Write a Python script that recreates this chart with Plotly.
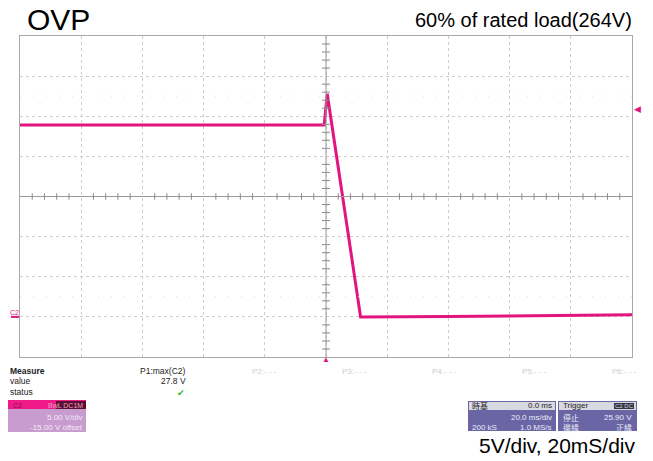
import plotly.graph_objects as go

# ---- data (time in ms, voltage in V) ----
time_ms = [-100, -0.6, 0.4, 11.3, 40, 70, 100]
volts = [23.9, 23.9, 27.8, 0.0, 0.05, 0.15, 0.25]

x_ticks = [-100, -80, -60, -40, -20, 0, 20, 40, 60, 80, 100]
y_ticks = [-5, 0, 5, 10, 15, 20, 25, 30, 35]
trigger_level = 25.9
meas_labels = ["P2:- - -", "P3:- - -", "P4:- - -", "P5:- - -", "P6:- - -"]

TRACE = "#E2147F"
FONT = "Liberation Sans, Arial, sans-serif"

# plot area in pixels
L, R, T, B = 20, 632, 36, 357
W, H = 653, 461


def px(x):
    return (x - L) / (R - L)


def py(y):
    return (B - y) / (B - T)


fig = go.Figure()
fig.add_trace(go.Scatter(x=time_ms, y=volts, mode="lines",
                         line=dict(color=TRACE, width=3), hoverinfo="skip",
                         showlegend=False))

shapes = []
# center axes
shapes.append(dict(type="line", xref="x", yref="y", x0=0, x1=0, y0=-5, y1=35,
                   line=dict(color="#9a9a9a", width=1)))
shapes.append(dict(type="line", xref="x", yref="y", x0=-100, x1=100, y0=15, y1=15,
                   line=dict(color="#9a9a9a", width=1)))
# minor tick marks on centre axes
for i in range(-25, 26):
    if i % 5:
        t = i * 4
        shapes.append(dict(type="line", xref="x", yref="y", x0=t, x1=t, y0=14.6, y1=15.4,
                           line=dict(color="#8a8a8a", width=1)))
for i in range(-20, 21):
    if i % 5:
        v = 15 + i
        shapes.append(dict(type="line", xref="x", yref="y", x0=-1.3, x1=1.3, y0=v, y1=v,
                           line=dict(color="#8a8a8a", width=1)))
# faint half-division marks
for yv in (27.5, 2.5):
    shapes.append(dict(type="line", xref="x", yref="y", x0=-100, x1=100, y0=yv, y1=yv,
                       line=dict(color="#dddddd", width=1, dash="1px,12px")))

# C2 settings box
shapes.append(dict(type="rect", xref="paper", yref="paper", x0=px(8), x1=px(86),
                   y0=py(432), y1=py(400), fillcolor="#C89CCF", line=dict(width=0)))
shapes.append(dict(type="rect", xref="paper", yref="paper", x0=px(8), x1=px(86),
                   y0=py(409), y1=py(400), fillcolor="#EE1A88", line=dict(width=0)))
shapes.append(dict(type="rect", xref="paper", yref="paper", x0=px(56), x1=px(86),
                   y0=py(409), y1=py(401), fillcolor="#5a1030", line=dict(width=0)))
# timebase box
shapes.append(dict(type="rect", xref="paper", yref="paper", x0=px(468), x1=px(556),
                   y0=py(431), y1=py(401), fillcolor="#6A66A6", line=dict(width=0)))
shapes.append(dict(type="rect", xref="paper", yref="paper", x0=px(469), x1=px(555),
                   y0=py(410), y1=py(402), fillcolor="#D9D9E2", line=dict(width=0)))
# trigger box
shapes.append(dict(type="rect", xref="paper", yref="paper", x0=px(558), x1=px(637),
                   y0=py(431), y1=py(401), fillcolor="#6A66A6", line=dict(width=0)))
shapes.append(dict(type="rect", xref="paper", yref="paper", x0=px(559), x1=px(636),
                   y0=py(410), y1=py(402), fillcolor="#D9D9E2", line=dict(width=0)))
shapes.append(dict(type="rect", xref="paper", yref="paper", x0=px(614), x1=px(634),
                   y0=py(409), y1=py(403), fillcolor="#333344", line=dict(width=0)))
# ground marker line
shapes.append(dict(type="line", xref="paper", yref="y", x0=px(11), x1=px(19), y0=0, y1=0,
                   line=dict(color=TRACE, width=2)))

ann = []


def txt(x, y, s, size=9, color="#222", anchor="left", bold=False, family=FONT):
    ann.append(dict(xref="paper", yref="paper", x=px(x), y=py(y), text=("<b>%s</b>" % s) if bold else s,
                    showarrow=False, xanchor=anchor, yanchor="middle",
                    font=dict(size=size, color=color, family=family)))


txt(25, 19, "OVP", size=30, color="#000")
txt(634, 20, "60% of rated load(264V)", size=20, color="#000", anchor="right")
txt(638, 445, "5V/div, 20mS/div", size=21, color="#000", anchor="right")

txt(8, 371, "Measure", size=8.5, bold=True)
txt(8, 381, "value", size=8.5)
txt(8, 392, "status", size=8.5)
txt(188, 371, "P1:max(C2)", size=8.5, anchor="right")
txt(188, 381, "27.8 V", size=8.5, anchor="right")
txt(181, 393, "✔", size=9, color="#3BB53B", anchor="center")
for i, lab in enumerate(meas_labels):
    txt(250 + i * 90, 371, lab, size=8, color="#cccccc")

txt(11, 405, "C2", size=7, color="#8a0f4a")
txt(85, 405, "BwL DC1M", size=7, color="#E7A0C4", anchor="right")
txt(85, 417, "5.00 V/div", size=8, color="#f4eaf6", anchor="right")
txt(85, 427, "-15.00 V offset", size=8, color="#f4eaf6", anchor="right")

txt(470, 406, "時基", size=8, color="#222", family="Noto Sans CJK TC")
txt(554, 406, "0.0 ms", size=8, color="#222", anchor="right")
txt(554, 417, "20.0 ms/div", size=8, color="#ecebf6", anchor="right")
txt(470, 427, "200 kS", size=8, color="#ecebf6")
txt(554, 427, "1.0 MS/s", size=8, color="#ecebf6", anchor="right")

txt(561, 406, "Trigger", size=8, color="#222")
txt(624, 406, "C2 DC", size=6, color="#dddddd", anchor="center")
txt(561, 417, "停止", size=8, color="#ecebf6", family="Noto Sans CJK TC")
txt(634, 417, "25.90 V", size=8, color="#ecebf6", anchor="right")
txt(561, 427, "邊緣", size=8, color="#ecebf6", family="Noto Sans CJK TC")
txt(634, 427, "正緣", size=8, color="#ecebf6", anchor="right", family="Noto Sans CJK TC")

# ground label
txt(14, 312, "C2", size=7, color=TRACE, anchor="center")
# trigger level arrow (right) and trigger time arrow (bottom)
ann.append(dict(xref="paper", yref="y", x=px(637), y=trigger_level, text="◀", showarrow=False,
                font=dict(size=9, color=TRACE), xanchor="center", yanchor="middle"))
ann.append(dict(xref="x", yref="paper", x=0, y=py(360), text="▲", showarrow=False,
                font=dict(size=8, color=TRACE), xanchor="center", yanchor="middle"))

fig.update_layout(
    width=W, height=H,
    margin=dict(l=L, r=W - R, t=T, b=H - B),
    paper_bgcolor="white", plot_bgcolor="white",
    shapes=shapes, annotations=ann,
    font=dict(family=FONT),
    xaxis=dict(range=[-100, 100], tickvals=x_ticks, showticklabels=False, ticks="",
               showgrid=True, gridcolor="#cdcdcd", griddash="dot", gridwidth=1,
               zeroline=False, showline=True, mirror=True, linecolor="#a8a8a8", linewidth=1),
    yaxis=dict(range=[-5, 35], tickvals=y_ticks, showticklabels=False, ticks="",
               showgrid=True, gridcolor="#cdcdcd", griddash="dot", gridwidth=1,
               zeroline=False, showline=True, mirror=True, linecolor="#a8a8a8", linewidth=1),
)

fig.write_html("out.html", config={"displayModeBar": False},
               post_script="document.body.style.margin='0px';")
